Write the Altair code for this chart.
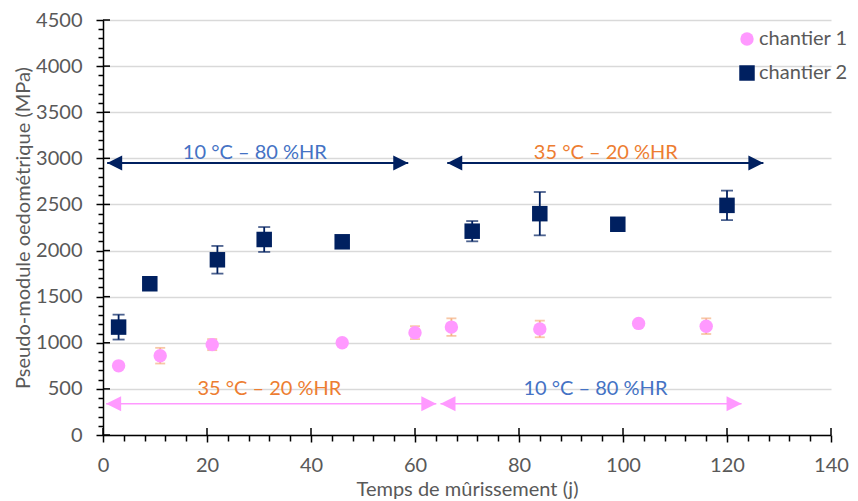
import altair as alt
import pandas as pd

# ---------------- data ----------------
c1_x = [3, 11, 21, 46, 60, 67, 84, 103, 116]
c1_y = [750, 860, 980, 1000, 1110, 1170, 1150, 1210, 1180]
c1_err = [0, 85, 60, 0, 70, 95, 90, 0, 85]

c2_x = [3, 9, 22, 31, 46, 71, 84, 99, 120]
c2_y = [1170, 1640, 1900, 2120, 2095, 2210, 2400, 2285, 2490]
c2_err = [135, 0, 150, 135, 0, 110, 235, 0, 160]

series_names = ["chantier 1", "chantier 2"]

arrow_x1 = [0.8, 66.2, 0.6, 64.9]
arrow_x2 = [58.7, 127.0, 64.1, 122.8]
arrow_y = [2950, 2950, 340, 340]
arrow_kind = ["top", "top", "bottom", "bottom"]

label_text = ["10 °C – 80 %HR", "35 °C – 20 %HR", "35 °C – 20 %HR", "10 °C – 80 %HR"]
label_x = [29.2, 96.7, 32.0, 94.7]
label_y = [3060, 3060, 500, 500]
label_kind = ["blue", "orange", "orange", "blue"]

x_major = list(range(0, 141, 20))
y_major = list(range(0, 4501, 500))

# ---------------- styles ----------------
NAVY = "#002060"
PINK = "#FF99FF"
CAP1 = "#F4B183"
BLUE = "#4472C4"
ORANGE = "#ED7D31"
GREY = "#595959"
FONT = "Lato"

pts = pd.DataFrame({
    "x": c1_x + c2_x,
    "y": c1_y + c2_y,
    "err": c1_err + c2_err,
    "series": [series_names[0]] * len(c1_x) + [series_names[1]] * len(c2_x),
})
pts["lo"] = pts["y"] - pts["err"]
pts["hi"] = pts["y"] + pts["err"]
errs = pts[pts["err"] > 0]

arrows = pd.DataFrame({"x": arrow_x1, "x2": arrow_x2, "y": arrow_y, "kind": arrow_kind})
labels = pd.DataFrame({"x": label_x, "y": label_y, "text": label_text, "kind": label_kind})
xticks = pd.DataFrame({"x": x_major})
yticks = pd.DataFrame({"y": y_major})

xscale = alt.Scale(domain=[0, 140], nice=False, zero=False)
yscale = alt.Scale(domain=[0, 4500], nice=False)

xaxis = alt.Axis(
    title="Temps de mûrissement (j)",
    values=list(range(0, 141, 4)),
    labelExpr="datum.value % 20 === 0 ? datum.label : ''",
    format="d",
    tickSize={"condition": {"test": "datum.value % 20 === 0", "value": 7}, "value": 6},
    grid=False,
    labelFlush=False,
    labelPadding=13,
    titlePadding=4,
)
yaxis = alt.Axis(
    title="Pseudo-module oedométrique (MPa)",
    values=list(range(0, 4501, 100)),
    labelExpr="datum.value % 500 === 0 ? datum.label : ''",
    format="d",
    tickSize={"condition": {"test": "datum.value % 500 === 0", "value": 7}, "value": 5},
    gridOpacity={"condition": {"test": "datum.value % 500 === 0", "value": 1}, "value": 0},
    grid=True,
    labelPadding=14,
    titlePadding=2,
)


def X(field="x"):
    return alt.X(f"{field}:Q", scale=xscale, axis=xaxis)


def Y(field="y"):
    return alt.Y(f"{field}:Q", scale=yscale, axis=yaxis)


# inside halves of major ticks
xin = alt.Chart(xticks).mark_rule(color="black", strokeWidth=1.5).encode(
    x=X(), y=alt.value(415), y2=alt.value(408)
)
yin = alt.Chart(yticks).mark_rule(color="black", strokeWidth=1.5).encode(
    y=Y(), x=alt.value(0), x2=alt.value(7)
)

# arrows
arrow_layers = []
for kind, col, sw in [("top", NAVY, 2), ("bottom", PINK, 1.5)]:
    base = alt.Chart(arrows).transform_filter(alt.datum.kind == kind)
    arrow_layers.append(base.mark_rule(color=col, strokeWidth=sw).encode(x=X(), x2="x2:Q", y=Y()))
    arrow_layers.append(
        base.mark_point(shape="M0,0L2,-1L2,1Z", filled=True, opacity=1, size=225, color=col, strokeWidth=0)
        .encode(x=X(), y=Y())
    )
    arrow_layers.append(
        base.mark_point(shape="M0,0L-2,-1L-2,1Z", filled=True, opacity=1, size=225, color=col, strokeWidth=0)
        .encode(x=X("x2"), y=Y())
    )

# labels
label_layers = []
for kind, col in [("blue", BLUE), ("orange", ORANGE)]:
    label_layers.append(
        alt.Chart(labels).transform_filter(alt.datum.kind == kind)
        .mark_text(font=FONT, fontSize=20, color=col, align="center", baseline="middle")
        .encode(x=X(), y=Y(), text="text:N")
    )

# error bars
err_layers = []
for name, col, cap in [(series_names[0], CAP1, 10), (series_names[1], NAVY, 12)]:
    base = alt.Chart(errs).transform_filter(alt.datum.series == name)
    err_layers.append(base.mark_rule(color=col, strokeWidth=1.8).encode(x=X(), y=Y("lo"), y2="hi:Q"))
    err_layers.append(base.mark_tick(color=col, thickness=1.8, size=cap, orient="horizontal").encode(x=X(), y=Y("lo")))
    err_layers.append(base.mark_tick(color=col, thickness=1.8, size=cap, orient="horizontal").encode(x=X(), y=Y("hi")))

points = alt.Chart(pts).mark_point(filled=True, opacity=1, strokeWidth=0).encode(
    x=X(),
    y=Y(),
    color=alt.Color("series:N", scale=alt.Scale(domain=series_names, range=[PINK, NAVY]), title=None),
    shape=alt.Shape("series:N", scale=alt.Scale(domain=series_names, range=["circle", "square"]), title=None),
    size=alt.Size("series:N", scale=alt.Scale(domain=series_names, range=[180, 240]), title=None),
)

chart = alt.layer(
    *arrow_layers, *err_layers, points, *label_layers, xin, yin
).properties(
    width=728,
    height=415,
    padding={"left": 95, "top": 12, "right": 19, "bottom": 66},
    autosize="none",
).configure_view(stroke=None).configure_axis(
    domainColor="black",
    domainWidth=1.5,
    tickColor="black",
    tickWidth=1.5,
    labelColor=GREY,
    labelFont=FONT,
    labelFontSize=20,
    titleColor=GREY,
    titleFont=FONT,
    titleFontSize=20,
    titleFontWeight="normal",
    gridColor="#D9D9D9",
    gridWidth=1.5,
).configure_legend(
    orient="none",
    legendX=634,
    legendY=9,
    labelFont=FONT,
    labelFontSize=20,
    labelColor=GREY,
    labelOffset=2,
    rowPadding=14,
    symbolStrokeWidth=0,
)

chart.save("out.html", embed_options={"renderer": "svg", "actions": False})
